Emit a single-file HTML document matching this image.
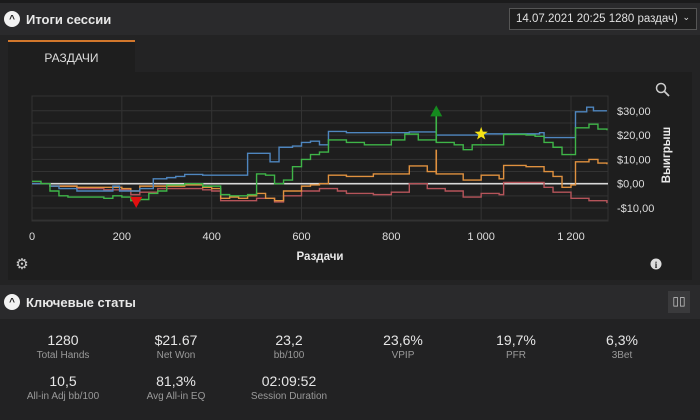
<!DOCTYPE html>
<html><head><meta charset="utf-8"><style>
*{box-sizing:border-box;margin:0;padding:0}
body{width:700px;height:420px;background:#1b1b1c;font-family:"Liberation Sans","Noto Sans CJK SC",sans-serif;color:#ddd;position:relative;overflow:hidden}
.abs{position:absolute}
.hdr{left:0;top:3px;width:700px;height:32px;background:#2a2a2c}
.circ{width:16px;height:16px;border-radius:50%;background:#f2f2f2;color:#222;font-size:10px;font-weight:bold;text-align:center;line-height:17px}
.ttl{font-size:13px;font-weight:bold;color:#e8e8e8}
.stat{text-align:center;width:110px}
.stat .v{font-size:14px;color:#e6e6e6}
.stat .l{font-size:10px;color:#9a9a9a;margin-top:2px}
</style></head><body>
<div class="abs hdr"></div>
<div class="abs circ" style="left:4px;top:11px">^</div>
<div class="abs ttl" style="left:26px;top:12px">Итоги сессии</div>
<div class="abs" style="left:509px;top:8px;width:188px;height:22px;border:1px solid #555;background:#1e1e1e;font-size:11.5px;color:#e0e0e0;padding:4px 6px">14.07.2021 20:25 1280 раздач)<span style="position:absolute;right:6px;top:3px;font-size:9px">⌄</span></div>
<div class="abs" style="left:0;top:35px;width:700px;height:250px;background:#232324"></div>
<div class="abs" style="left:8px;top:40px;width:127px;height:32px;background:#1e1e1e;border-top:2px solid #d2772c;text-align:center;font-size:12px;color:#ddd;padding-top:9px">РАЗДАЧИ</div>
<div class="abs" style="left:8px;top:72px;width:684px;height:208px;background:#1e1e1e"></div>
<svg class="abs" style="left:0;top:0" width="700" height="420" id="chart"></svg>
<div class="abs" style="left:0;top:285px;width:700px;height:34px;background:#2a2a2c"></div>
<div class="abs circ" style="left:4px;top:294px">^</div>
<div class="abs ttl" style="left:26px;top:295px">Ключевые статы</div>
<div class="abs" style="left:668px;top:291px;width:22px;height:22px;background:#3a3a3c;color:#ccc;font-size:12px;text-align:center;line-height:21px">▯▯</div>
<div class="abs" style="left:0;top:319px;width:700px;height:101px;background:#222223"></div>
<div class="abs stat" style="left:8px;top:332px"><div class="v">1280</div><div class="l">Total Hands</div></div>
<div class="abs stat" style="left:121px;top:332px"><div class="v">$21.67</div><div class="l">Net Won</div></div>
<div class="abs stat" style="left:234px;top:332px"><div class="v">23,2</div><div class="l">bb/100</div></div>
<div class="abs stat" style="left:348px;top:332px"><div class="v">23,6%</div><div class="l">VPIP</div></div>
<div class="abs stat" style="left:461px;top:332px"><div class="v">19,7%</div><div class="l">PFR</div></div>
<div class="abs stat" style="left:567px;top:332px"><div class="v">6,3%</div><div class="l">3Bet</div></div>
<div class="abs stat" style="left:8px;top:373px"><div class="v">10,5</div><div class="l">All-in Adj bb/100</div></div>
<div class="abs stat" style="left:121px;top:373px"><div class="v">81,3%</div><div class="l">Avg All-in EQ</div></div>
<div class="abs stat" style="left:234px;top:373px"><div class="v">02:09:52</div><div class="l">Session Duration</div></div>
<script>
const xTicks=[0,200,400,600,800,1000,1200];
const xTickLabels=["0","200","400","600","800","1 000","1 200"];
const yTicks=[-10,0,10,20,30];
const yTickLabels=["-$10,00","$0,00","$10,00","$20,00","$30,00"];
const yGrid=[-15,-10,-5,0,5,10,15,20,25,30];
const blueHands=[0,20,40,60,100,180,195,220,240,270,300,320,340,380,480,530,550,580,600,620,640,660,700,840,900,1000,1130,1140,1200,1210,1235,1250,1280];
const blueVals=[0,0,-1,-2,-3,-1,-3,-3,-2,2,2.5,3,3.8,3.5,12.5,9,15,15.5,17,17.5,16,21.5,21,21.3,20,20.5,21,19,19,29.6,31.5,30,30];
const greenHands=[0,20,40,60,80,140,160,180,200,220,240,260,280,300,340,380,420,440,480,500,520,540,560,580,600,620,640,660,700,740,800,830,860,900,940,960,980,1040,1050,1100,1120,1140,1160,1180,1200,1210,1240,1260,1280];
const greenVals=[1,0,-3,-5,-5.5,-5.5,-6,-5,-5.5,-7,-6.5,-4,-3,-0.5,0,-1,-4.5,-5,-4.5,4,3.5,0,1.5,7,10,12,13,18,17,16,18,20.4,18,17,16,14,16,16,20.3,20,19.5,17,15,12,12,23,24.5,22.5,22];
const orangeHands=[0,40,100,200,220,240,280,340,380,400,420,440,460,480,500,520,540,560,600,620,640,660,700,760,840,880,900,960,1000,1040,1050,1100,1140,1160,1180,1200,1210,1240,1260,1280];
const orangeVals=[0,-1,-1.5,-2,-3,-1,-1,-0.5,-1.5,-2,-6,-5.5,-6,-5,-4,-6,-7,-3,-1,-0.5,0,3.5,3,4,7.3,5,4,1.5,3.5,2,7.5,7,5,3,-1.5,-0.5,9,10,8.5,8];
const redHands=[0,40,100,160,220,240,280,320,380,400,420,460,500,540,560,600,640,680,700,760,800,840,880,920,960,1000,1040,1050,1100,1140,1160,1200,1240,1280];
const redVals=[0,-1,-2,-2.5,-4.5,-3.5,-2,-2,-2.5,-3,-7,-7,-6,-7.5,-5,-3,-2,-3,-4,-4.5,-3.5,0,-2,-3,-5.5,-4,-4.5,0.5,0.5,-1.5,-3.5,-6,-7,-8];
const minHand=232, minVal=-7.5;
const maxHand=900, maxFrom=17, maxVal=31;
const spikeHand=900, spikeFrom=4, spikeVal=14;
const starHand=1000, starVal=20.5;

const X0=32,X1=608,Y0=96,Y1=221;
const xs=h=>X0+h*(571-32)/1200;
const ys=v=>183.7-v*2.43;
const NS="http://www.w3.org/2000/svg";
const svg=document.getElementById('chart');
function mk(t,a){const e=document.createElementNS(NS,t);for(const k in a)e.setAttribute(k,a[k]);svg.appendChild(e);return e;}
let e=mk('rect',{x:X0,y:Y0,width:X1-X0,height:Y1-Y0,fill:'none',stroke:'#333',"stroke-width":1});


yGrid.forEach(v=>{const g=mk('line',{x1:X0,x2:X1,y1:ys(v),y2:ys(v),stroke:'#333',"stroke-width":1});

});
xTicks.forEach((h,i)=>{const g=mk('line',{x1:xs(h),x2:xs(h),y1:Y0,y2:Y1,stroke:'#333',"stroke-width":1});


const t=mk('text',{x:xs(h),y:240,fill:'#ddd',"font-size":11,"text-anchor":"middle","font-family":"Liberation Sans, sans-serif"});t.textContent=xTickLabels[i];

});
yTicks.forEach((v,i)=>{const t=mk('text',{x:617,y:ys(v)+4,fill:'#ddd',"font-size":11,"font-family":"Liberation Sans, sans-serif"});t.textContent=yTickLabels[i];

});
const z=mk('line',{x1:X0,x2:X1,y1:ys(0),y2:ys(0),stroke:'#d8d8d8',"stroke-width":1.6});


function series(H,V,col,name){let d='M'+xs(H[0])+','+ys(V[0]);
for(let i=1;i<H.length;i++){d+=' L'+xs(H[i])+','+ys(V[i-1])+' L'+xs(H[i])+','+ys(V[i]);}
const p=mk('path',{d:d,fill:'none',stroke:col,"stroke-width":1.4});

}
series(redHands,redVals,'#b5545a','series-red');
series(orangeHands,orangeVals,'#e0913f','series-orange');
series(blueHands,blueVals,'#4f86bf','series-blue');
series(greenHands,greenVals,'#3fb548','series-green');
let s=mk('line',{x1:xs(spikeHand),x2:xs(spikeHand),y1:ys(spikeFrom),y2:ys(spikeVal),stroke:'#e0913f',"stroke-width":1.6});


s=mk('line',{x1:xs(maxHand),x2:xs(maxHand),y1:ys(maxFrom),y2:ys(maxVal)+6,stroke:'#3fb548',"stroke-width":1.6});


const mx=xs(maxHand),my=ys(maxVal);
s=mk('polygon',{points:`${mx},${my-3} ${mx-6},${my+8} ${mx+6},${my+8}`,fill:'#158a1e'});


const nx=xs(minHand),ny=ys(minVal);
s=mk('polygon',{points:`${nx-6},${ny-5} ${nx+6},${ny-5} ${nx},${ny+6}`,fill:'#e01010'});


const sx=xs(starHand),sy=ys(starVal);let pts=[];
for(let i=0;i<10;i++){const r=i%2?2.8:7,a=-Math.PI/2+i*Math.PI/5;pts.push((sx+r*Math.cos(a)).toFixed(1)+','+(sy+r*Math.sin(a)).toFixed(1));}
s=mk('polygon',{points:pts.join(' '),fill:'#f5e316'});


let t=mk('text',{x:320,y:260,fill:'#e8e8e8',"font-size":11.5,"font-weight":"bold","text-anchor":"middle","font-family":"Liberation Sans, sans-serif"});t.textContent='Раздачи';


t=mk('text',{x:0,y:0,fill:'#e8e8e8',"font-size":11.5,"font-weight":"bold","text-anchor":"middle",transform:'translate(670,155) rotate(-90)',"font-family":"Liberation Sans, sans-serif"});t.textContent='Выигрыш';


let g=mk('g',{});g.innerHTML='<circle cx="661" cy="88" r="4.5" fill="none" stroke="#ccc" stroke-width="1.5"/><line x1="664.5" y1="91.5" x2="669" y2="96" stroke="#ccc" stroke-width="1.8"/>';


g=mk('text',{x:22,y:269,fill:'#ccc',"font-size":15,"text-anchor":"middle"});g.textContent='⚙';


g=mk('g',{});g.innerHTML='<circle cx="656" cy="264" r="5.5" fill="#ddd"/><text x="656" y="268" font-size="9" font-weight="bold" text-anchor="middle" fill="#222" font-family="Liberation Serif, serif">i</text>';


</script>
</body></html>
